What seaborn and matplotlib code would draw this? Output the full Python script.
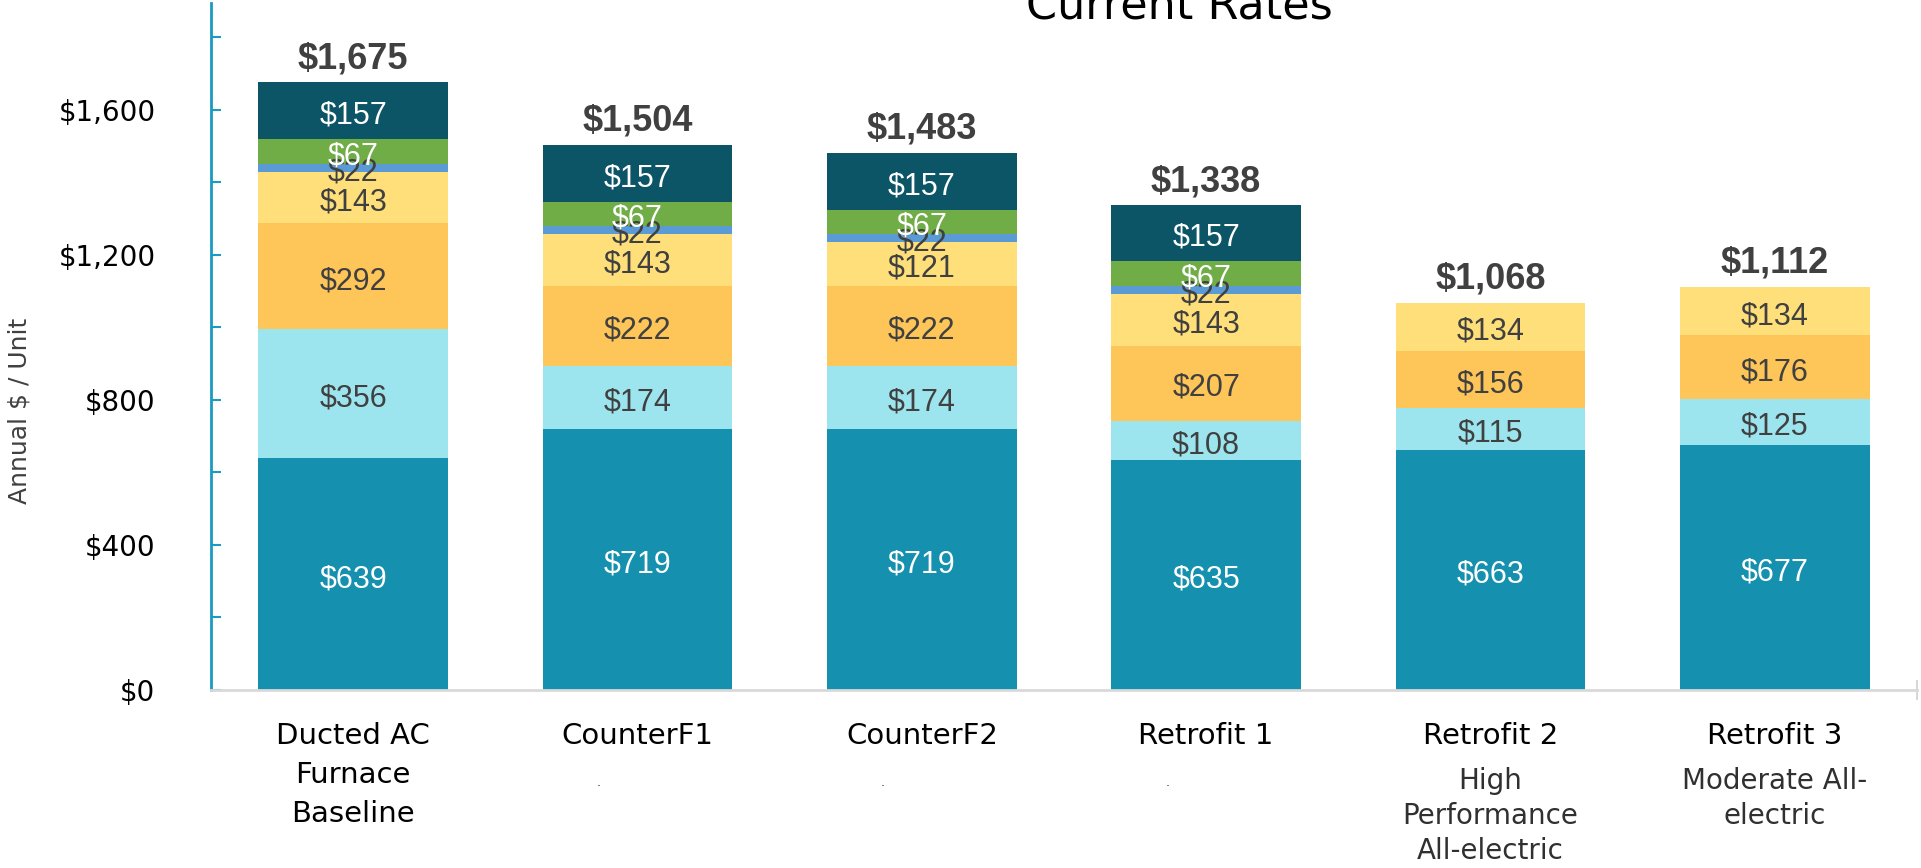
import numpy as np
import pandas as pd
import matplotlib.pyplot as plt
import seaborn as sns

# categories and stacked segment values (bottom to top)
names = ["Ducted AC\nFurnace\nBaseline", "CounterF1", "CounterF2", "Retrofit 1", "Retrofit 2", "Retrofit 3"]
subtitles = ["", ".", ".", ".", "High\nPerformance\nAll-electric", "Moderate All-\nelectric"]
keys = ["Baseline", "CounterF1", "CounterF2", "Retrofit 1", "Retrofit 2", "Retrofit 3"]
seg1 = [639, 719, 719, 635, 663, 677]
seg2 = [356, 174, 174, 108, 115, 125]
seg3 = [292, 222, 222, 207, 156, 176]
seg4 = [143, 143, 121, 143, 134, 134]
seg5 = [22, 22, 22, 22, 0, 0]
seg6 = [67, 67, 67, 67, 0, 0]
seg7 = [157, 157, 157, 157, 0, 0]
totals = [1675, 1504, 1483, 1338, 1068, 1112]

segments = [seg1, seg2, seg3, seg4, seg5, seg6, seg7]
colors = ["#1590AE", "#9DE5EE", "#FEC558", "#FFDF7A", "#5B9BD5", "#70AD47", "#0C5567"]
label_colors = ["white", "#404040", "#404040", "#404040", "#404040", "white", "white"]

sns.set_style("white")
plt.rcParams["font.family"] = ["DejaVu Sans"]

fig = plt.figure(figsize=(19.21, 8.68), dpi=100)
ax = fig.add_axes([211/1921, 1-690/868, (1917-211)/1921, (690-3)/868])

df = pd.DataFrame({"case": keys})
cum = np.zeros(len(keys))
cums = []
for s in segments:
    cum = cum + np.array(s)
    cums.append(cum.copy())

# draw cumulative heights tallest first so each layer shows as a segment
for k in range(len(segments) - 1, -1, -1):
    df["h"] = cums[k]
    sns.barplot(data=df, x="case", y="h", color=colors[k], width=0.667,
                saturation=1, ax=ax, linewidth=0)

# segment labels
for k, s in enumerate(segments):
    bottoms = cums[k] - np.array(s)
    for i, v in enumerate(s):
        if v > 0:
            ax.annotate(f"${v:,}", (i, bottoms[i] + v / 2), xytext=(0, -3.5),
                        textcoords="offset points", ha="center", va="center",
                        fontsize=22, color=label_colors[k], family="Liberation Sans")

# totals
for i, t in enumerate(totals):
    ax.annotate(f"${t:,}", (i, t), xytext=(0, 10), textcoords="offset points",
                ha="center", va="baseline", fontsize=26, fontweight="bold",
                color="#404040", family="Liberation Sans")

ax.set_xlim(-0.5, 5.5)
ax.set_ylim(0, 1895)
ax.set_xlabel("")
ax.set_ylabel("")

# y axis
ax.set_yticks([0, 400, 800, 1200, 1600])
ax.set_yticklabels(["$0", "$400", "$800", "$1,200", "$1,600"])
ax.set_yticks([200, 600, 1000, 1400, 1800], minor=True)
ax.tick_params(axis="y", which="both", direction="in", length=7, width=1.5,
               color="#1A9BBF", labelsize=20, pad=40, left=True)
for lab in ax.get_yticklabels():
    lab.set_color("black")

# x axis
ax.set_xticks(range(6))
ax.set_xticklabels([""] * 6)
ax.set_xticks([5.5], minor=True)
ax.tick_params(axis="x", which="major", direction="in", length=9, width=1.2,
               color="#D0D0D0", bottom=True)
ax.tick_params(axis="x", which="minor", direction="inout", length=14, width=1.2,
               color="#D0D0D0", bottom=True)

sns.despine(ax=ax, top=True, right=True)
ax.spines["left"].set_color("#1A9BBF")
ax.spines["left"].set_linewidth(2)
ax.spines["bottom"].set_color("#D9D9D9")
ax.spines["bottom"].set_linewidth(2)

# category labels
trans = ax.get_xaxis_transform()
for i in range(6):
    ax.text(i, -0.046, names[i], transform=trans, ha="center", va="top",
            fontsize=21, color="black", linespacing=1.5)
    if subtitles[i] == ".":
        ax.text(i - 0.137, -0.14, subtitles[i], transform=trans, ha="center",
                va="baseline", fontsize=9, color="#303030")
    elif subtitles[i]:
        ax.text(i, -0.112, subtitles[i], transform=trans, ha="center", va="top",
                fontsize=20, color="#303030", linespacing=1.31)

fig.text(20/1921, 1-411/868, "Annual $ / Unit", rotation=90, ha="center",
         va="center", fontsize=18, color="#404040")
fig.text(1179/1921, 1-20/868, "Current Rates", ha="center", va="baseline",
         fontsize=32, color="black")

fig.savefig("out.png", dpi=100)
